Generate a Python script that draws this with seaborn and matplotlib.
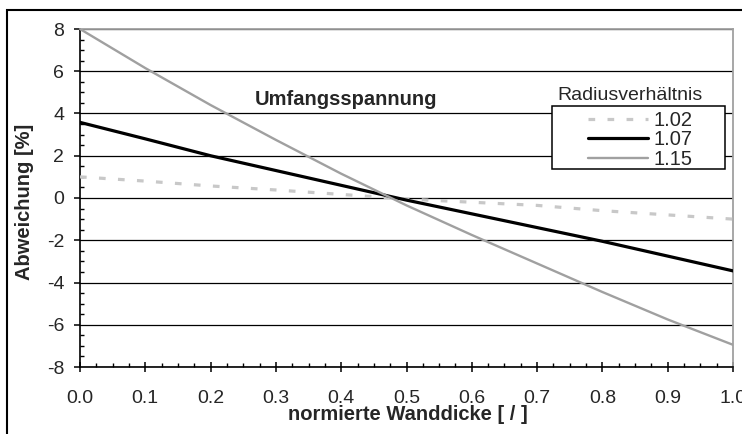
import numpy as np
import pandas as pd
import matplotlib
matplotlib.use("Agg")
import matplotlib.pyplot as plt
from matplotlib.patches import Rectangle
from matplotlib.ticker import MultipleLocator, FormatStrFormatter
import seaborn as sns

# ---- data ----
x_vals = [0.0, 0.1, 0.2, 0.3, 0.4, 0.5, 0.6, 0.7, 0.8, 0.9, 1.0]
r102 = [1.0, 0.8, 0.57, 0.38, 0.17, -0.05, -0.2, -0.35, -0.6, -0.8, -1.0]
r107 = [3.58, 2.8, 2.0, 1.3, 0.6, -0.1, -0.75, -1.4, -2.05, -2.75, -3.45]
r115 = [8.0, 6.15, 4.4, 2.75, 1.15, -0.35, -1.75, -3.1, -4.45, -5.75, -6.95]
series_names = ["1.02", "1.07", "1.15"]
legend_title = "Radiusverhältnis"
annotation = "Umfangsspannung"
x_label = "normierte Wanddicke [ / ]"
y_label = "Abweichung [%]"

df = pd.DataFrame({
    "x": x_vals * 3,
    "y": r102 + r107 + r115,
    "ratio": [series_names[0]] * len(x_vals) + [series_names[1]] * len(x_vals) + [series_names[2]] * len(x_vals),
})

sns.set_theme(style="white")
plt.rcParams["font.family"] = ["Liberation Sans", "DejaVu Sans"]
plt.rcParams["lines.scale_dashes"] = False

fig = plt.figure(figsize=(7.42, 4.34), dpi=100)
W, H = 742, 434
ax = fig.add_axes([80 / W, 1 - 367 / H, (733 - 80) / W, (367 - 29) / H])

palette = {"1.02": "#c8c8c8", "1.07": "#000000", "1.15": "#a0a0a0"}
dashes = {"1.02": (4.8, 8.9), "1.07": "", "1.15": ""}
sizes = {"1.02": 2.3, "1.07": 2.3, "1.15": 1.7}

sns.lineplot(data=df, x="x", y="y", hue="ratio", style="ratio", size="ratio",
             hue_order=series_names, style_order=series_names, size_order=series_names,
             palette=palette, dashes=dashes, sizes=sizes, legend=False, ax=ax, zorder=3)

ax.set_xlim(0, 1.0)
ax.set_ylim(-8, 8)
ax.xaxis.set_major_locator(MultipleLocator(0.1))
ax.xaxis.set_minor_locator(MultipleLocator(0.025))
ax.yaxis.set_major_locator(MultipleLocator(2))
ax.yaxis.set_minor_locator(MultipleLocator(0.5))
ax.xaxis.set_major_formatter(FormatStrFormatter("%.1f"))
ax.yaxis.set_major_formatter(FormatStrFormatter("%d"))

ax.grid(True, axis="y", which="major", color="black", linewidth=0.9)
ax.grid(False, axis="x")
ax.set_axisbelow(True)

ax.tick_params(axis="x", which="major", direction="inout", length=7.5, width=1.1,
               color="black", labelsize=14, pad=12.5, bottom=True)
ax.tick_params(axis="x", which="minor", direction="in", length=3, width=1.0,
               color="black", bottom=True)
ax.tick_params(axis="y", which="major", direction="out", length=4.3, width=1.1,
               color="black", labelsize=14, pad=7, left=True)
ax.tick_params(axis="y", which="minor", direction="in", length=3, width=1.0,
               color="black", left=True)

for side in ["left", "bottom"]:
    ax.spines[side].set_color("black")
    ax.spines[side].set_linewidth(1.2)
for side in ["top", "right"]:
    ax.spines[side].set_color("#a0a0a0")
    ax.spines[side].set_linewidth(1.3)

ax.set_xlabel(x_label, fontsize=14.5, fontweight="bold")
ax.set_ylabel(y_label, fontsize=14.5, fontweight="bold")
ax.xaxis.set_label_coords(0.502, -0.113)
ax.yaxis.set_label_coords(-0.07, 0.49)

ax.text(0.268, 4.64, annotation, fontsize=14.5, fontweight="bold", ha="left", va="center", zorder=4)

# legend box and title
box = Rectangle((552 / W, 1 - 169 / H), (725 - 552) / W, (169 - 106) / H,
                transform=fig.transFigure, facecolor="white", edgecolor="black",
                linewidth=1.1, zorder=5)
fig.add_artist(box)
fig.text(630 / W, 1 - 95 / H, legend_title, fontsize=14, ha="center", va="center")

handles = ax.get_lines()[:3]
leg = fig.legend(handles, series_names, loc="upper left",
                 bbox_to_anchor=(588 / W, 1 - 111 / H), frameon=False,
                 fontsize=14.5, handlelength=3.0, handletextpad=0.25,
                 labelspacing=0.02, borderpad=0, borderaxespad=0)
leg.set_zorder(6)

# outer chart frame (extends beyond the image on right/bottom)
frame = Rectangle((7 / W, -0.2), 1.2, 1 - 10 / H + 0.2, transform=fig.transFigure,
                  facecolor="none", edgecolor="black", linewidth=1.5, zorder=10)
fig.add_artist(frame)

fig.savefig("out.png", dpi=100)
